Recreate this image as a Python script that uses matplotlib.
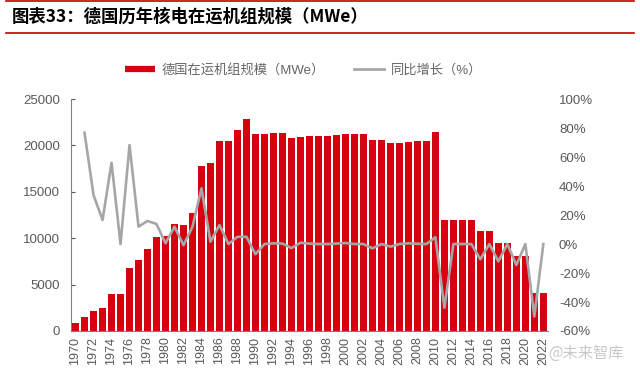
import matplotlib
matplotlib.use('Agg')
import matplotlib.pyplot as plt
from matplotlib.lines import Line2D

plt.rcParams['font.family'] = ['Liberation Sans', 'Noto Sans CJK SC', 'DejaVu Sans']

# Data
years = list(range(1970, 2023))
capacity = [900, 1500, 2150, 2500, 4000, 4000, 6800, 7600, 8800, 10100,
            10250, 11500, 11400, 12700, 17750, 18070, 20500, 20500, 21630, 22850,
            21230, 21230, 21340, 21370, 20760, 20940, 21010, 21010, 21010, 21080,
            21230, 21230, 21230, 20580, 20580, 20300, 20300, 20400, 20440, 20440,
            21410, 12000, 12000, 12000, 12000, 10800, 10800, 9500, 9500, 8100,
            8100, 4050, 4050]
growth = [None, 76.8, 33.8, 16.6, 56.1, 0.0, 68.3, 12.0, 15.9, 13.8,
          0.5, 12.0, -0.8, 12.0, 38.4, 1.6, 13.1, 0.0, 5.0, 5.0,
          -7.0, 0.0, 0.5, 0.3, -2.8, 0.9, 0.3, 0.0, 0.0, 0.3,
          0.7, 0.0, 0.0, -3.0, 0.0, -1.8, 0.0, 0.5, 0.2, 0.0,
          4.7, -44.0, 0.0, 0.0, 0.0, -10.5, 0.0, -12.0, 0.0, -14.5,
          0.0, -50.0, 0.0]
tick_years = years[::2]

red = '#d7000f'
gray_line = '#a6a6a6'
txt_gray = '#595959'

fig = plt.figure(figsize=(6.4, 3.74), dpi=100)
ax = fig.add_axes([0.111, 0.115, 0.745, 0.62])
x = list(range(len(years)))
ax.bar(x, capacity, width=0.78, color=red, zorder=2)
ax.set_xlim(-0.5, len(years) - 0.5)
ax.set_ylim(0, 25000)
ax.set_yticks(range(0, 25001, 5000))
ax.set_xticks(x[::2])
ax.set_xticklabels([str(y) for y in tick_years], rotation=90, fontsize=9, color=txt_gray)
ax.tick_params(axis='y', labelsize=9.5, colors=txt_gray, direction='in', length=3, pad=8)
ax.tick_params(axis='x', length=0, pad=4)
for s in ['top', 'right']:
    ax.spines[s].set_visible(False)
ax.spines['left'].set_color('#808080')
ax.spines['bottom'].set_color('#808080')

ax2 = ax.twinx()
gx = [i for i, g in zip(x, growth) if g is not None]
gy = [g for g in growth if g is not None]
ax2.plot(gx, gy, color=gray_line, lw=1.9, zorder=3)
ax2.set_ylim(-60, 100)
ax2.set_yticks(range(-60, 101, 20))
ax2.set_yticklabels([f'{v}%' for v in range(-60, 101, 20)])
ax2.tick_params(axis='y', labelsize=9.5, colors=txt_gray, length=0, pad=8)
for s in ax2.spines.values():
    s.set_visible(False)

handles = [Line2D([0], [0], color=red, lw=4.5, solid_capstyle='butt'),
           Line2D([0], [0], color=gray_line, lw=2)]
fig.legend(handles, ['德国在运机组规模（MWe）', '同比增长（%）'], loc='center',
           bbox_to_anchor=(0.474, 0.813), ncol=2, frameon=False, fontsize=9.5,
           labelcolor='#666666', handlelength=2.3, columnspacing=2.2,
           handletextpad=0.5)

# title block with red rules
fig.add_artist(Line2D([0.01, 0.99], [0.997, 0.997], color='#c00000', lw=1.2))
fig.add_artist(Line2D([0.01, 0.99], [0.912, 0.912], color='#c00000', lw=1.2))
fig.text(0.018, 0.955, '图表33：德国历年核电在运机组规模（MWe）', fontsize=12.5,
         fontweight='bold', style='italic', va='center', ha='left', color='black',
         family=['Noto Sans CJK SC', 'DejaVu Sans'])

fig.text(0.975, 0.055, '@未来智库', fontsize=11, color='#bbbbbb', alpha=0.8,
         ha='right', va='center', family=['Noto Sans CJK SC', 'DejaVu Sans'])

fig.savefig('out.png', dpi=100)
